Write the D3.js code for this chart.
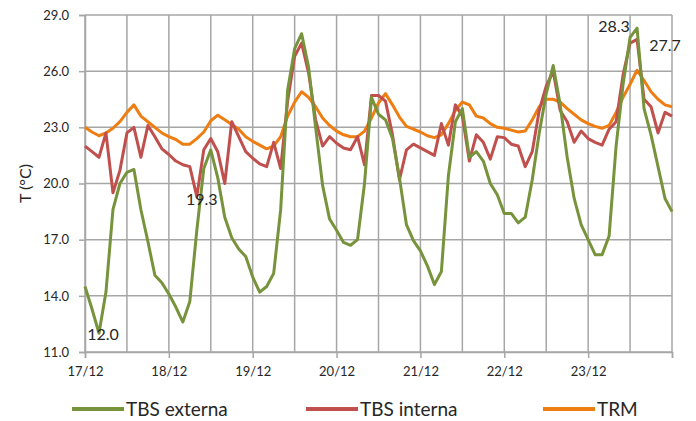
<!DOCTYPE html>
<html>
<head>
<meta charset="utf-8">
<script src="https://cdn.jsdelivr.net/npm/d3@7"></script>
<style>
  body { margin: 0; background: #fff; }
  text { font-family: Lato, "Open Sans", sans-serif; fill: #262626; }
</style>
</head>
<body>
<script>
// hours since 17/12 00:00, one reading every 2 hours
var hours = d3.range(0, 169, 2);

var tbsExterna = [
  14.5, 13.3, 12.0, 14.2, 18.6, 20.0, 20.6, 20.75, 18.6, 16.9,
  15.1, 14.7, 14.1, 13.4, 12.6, 13.7, 17.5, 20.8, 21.8, 20.3,
  18.2, 17.1, 16.5, 16.1, 15.0, 14.2, 14.5, 15.2, 18.6, 25.0,
  27.2, 28.0, 26.2, 23.0, 19.9, 18.1, 17.5, 16.85, 16.7, 17.0,
  20.0, 24.6, 23.7, 23.4, 22.4, 20.3, 17.8, 16.95, 16.4, 15.6,
  14.6, 15.3, 20.4, 23.3, 24.0, 21.4, 21.7, 21.2, 20.0, 19.4,
  18.4, 18.4, 17.9, 18.2, 20.2, 22.7, 24.8, 26.3, 24.2, 21.4,
  19.2, 17.8, 17.0, 16.2, 16.2, 17.2, 22.0, 25.3, 27.8, 28.3,
  24.0, 22.6, 20.9, 19.2, 18.5
];

var tbsInterna = [
  22.0, 21.7, 21.4, 22.7, 19.5, 20.7, 22.7, 23.0, 21.4, 23.1,
  22.5, 21.85, 21.55, 21.2, 21.0, 20.9, 19.3, 21.8, 22.4, 21.7,
  20.0, 23.3, 22.5, 21.7, 21.35, 21.05, 20.9, 22.2, 20.8, 24.4,
  26.8, 27.5, 25.9, 23.4, 22.0, 22.5, 22.15, 21.9, 21.8, 22.5,
  21.0, 24.7, 24.7, 24.4, 22.6, 20.2, 21.8, 22.1, 21.9, 21.7,
  21.5, 23.2, 22.05, 24.2, 23.6, 21.2, 22.6, 22.2, 21.3, 22.5,
  22.45, 22.1, 22.0, 20.9, 21.7, 23.9, 25.2, 26.0, 23.9, 23.3,
  22.2, 22.8, 22.4, 22.2, 22.05, 22.9, 23.3, 25.8, 27.5, 27.7,
  24.5, 24.1, 22.7, 23.8, 23.6
];

var trm = [
  23.0, 22.75, 22.55, 22.7, 22.95, 23.3, 23.8, 24.2, 23.6, 23.3,
  23.0, 22.7, 22.5, 22.35, 22.1, 22.1, 22.4, 22.75, 23.35, 23.65,
  23.4, 23.15, 22.9, 22.5, 22.25, 22.05, 21.85, 22.0, 22.5, 23.6,
  24.35, 24.9, 24.6, 24.1, 23.5, 23.1, 22.8, 22.6, 22.5, 22.5,
  22.8, 23.5, 24.3, 24.8, 24.2, 23.55, 23.05, 22.9, 22.75, 22.55,
  22.45, 22.6, 23.2, 23.9, 24.35, 24.2, 23.6, 23.5, 23.2, 23.0,
  22.95, 22.85, 22.75, 22.8, 23.4, 24.1, 24.5, 24.5, 24.35, 24.0,
  23.7, 23.4, 23.2, 23.05, 22.95, 23.1, 23.8, 24.6, 25.3, 26.05,
  25.5, 24.9, 24.5, 24.2, 24.1
];

var dayLabels = ["17/12", "18/12", "19/12", "20/12", "21/12", "22/12", "23/12", ""];
var yTicks = [11, 14, 17, 20, 23, 26, 29];
var seriesNames = ["TBS externa", "TBS interna", "TRM"];
var seriesColors = ["#77933c", "#c0504d", "#ee7d12"];

// labelled points: [series index, hour, text]
var labelPoints = [
  [0, 4, "12.0"],
  [1, 32, "19.3"],
  [0, 158, "28.3"],
  [1, 158, "27.7"]
];

var width = 696, height = 421,
    margin = {top: 15, right: 24, bottom: 69, left: 85};

var svg = d3.select("body").append("svg")
    .attr("width", width)
    .attr("height", height);

var x = d3.scaleLinear()
    .domain([0, 168])
    .range([margin.left, width - margin.right]);

var y = d3.scaleLinear()
    .domain([11, 29])
    .range([height - margin.bottom, margin.top]);

// grid
svg.append("g").selectAll("line")
    .data(d3.range(0, 169, 12))
    .enter().append("line")
    .attr("x1", function(d){ return x(d); })
    .attr("x2", function(d){ return x(d); })
    .attr("y1", y(11))
    .attr("y2", y(29))
    .attr("stroke", "#a6a6a6")
    .attr("stroke-width", 1.5);

svg.append("g").selectAll("line")
    .data(yTicks)
    .enter().append("line")
    .attr("x1", x(0))
    .attr("x2", x(168))
    .attr("y1", function(d){ return y(d); })
    .attr("y2", function(d){ return y(d); })
    .attr("stroke", "#a6a6a6")
    .attr("stroke-width", 1.5);

// axes
svg.append("g")
    .attr("transform", "translate(0," + y(11) + ")")
    .call(d3.axisBottom(x)
        .tickValues(d3.range(0, 169, 24))
        .tickSize(6)
        .tickPadding(9)
        .tickFormat(function(d, i){ return dayLabels[i]; }));

svg.append("g")
    .attr("transform", "translate(" + x(0) + ",0)")
    .call(d3.axisLeft(y)
        .tickValues(yTicks)
        .tickSize(6)
        .tickPadding(10)
        .tickFormat(d3.format(".1f")));

svg.selectAll(".domain").attr("stroke", "#a6a6a6").attr("stroke-width", 1.5);
svg.selectAll(".tick line").attr("stroke", "#a6a6a6").attr("stroke-width", 1.5);
svg.selectAll(".tick text").style("font-size", "13px").attr("fill", "#262626");

svg.append("text")
    .attr("transform", "translate(31," + (y(20)) + ") rotate(-90)")
    .attr("text-anchor", "middle")
    .style("font-size", "16px")
    .text("T (°C)");

// lines
var allSeries = [tbsExterna, tbsInterna, trm];

var line = d3.line()
    .x(function(d, i){ return x(hours[i]); })
    .y(function(d){ return y(d); });

svg.append("g").selectAll("path")
    .data([2, 1, 0])
    .enter().append("path")
    .attr("d", function(k){ return line(allSeries[k]); })
    .attr("fill", "none")
    .attr("stroke", function(k){ return seriesColors[k]; })
    .attr("stroke-width", 3)
    .attr("stroke-linejoin", "round");

// data labels
var labelOffset = [[4, 7], [5, 8], [-23, 4], [28, 12]];
svg.append("g").selectAll("text")
    .data(labelPoints)
    .enter().append("text")
    .attr("x", function(d, i){ return x(d[1]) + labelOffset[i][0]; })
    .attr("y", function(d, i){ return y(allSeries[d[0]][hours.indexOf(d[1])]) + labelOffset[i][1]; })
    .attr("text-anchor", "middle")
    .style("font-size", "16px")
    .text(function(d){ return d[2]; });

// legend
var legendX = [72, 306, 543];
var legend = svg.append("g").selectAll("g")
    .data(seriesNames)
    .enter().append("g")
    .attr("transform", function(d, i){ return "translate(" + legendX[i] + ",409)"; });

legend.append("line")
    .attr("x1", 0).attr("x2", 52)
    .attr("stroke", function(d, i){ return seriesColors[i]; })
    .attr("stroke-width", 4);

legend.append("text")
    .attr("x", 54)
    .attr("y", 7)
    .style("font-size", "19px")
    .text(function(d){ return d; });
</script>
</body>
</html>
